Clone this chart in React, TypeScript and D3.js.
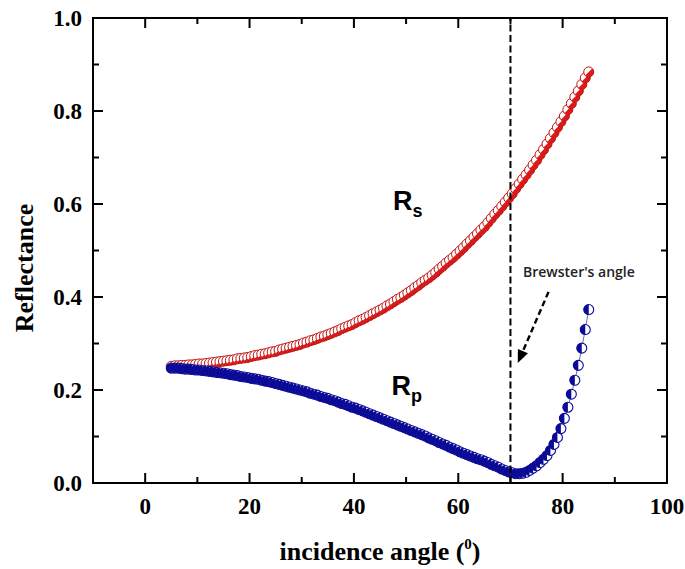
import React from "react";
import * as d3 from "d3";

const WIDTH = 685;
const HEIGHT = 569;
const MARGIN = { top: 18, right: 18, bottom: 86, left: 93 };

// incidence angles (degrees), one sample every 2/3 degree from 5 to 85
const angles: number[] = d3.range(121).map((i) => 5 + (i * 2) / 3);

// s-polarised reflectance
const rsValues: number[] = [
  0.251, 0.252, 0.252, 0.253, 0.253, 0.254, 0.254, 0.255,
  0.256, 0.256, 0.257, 0.258, 0.259, 0.26, 0.261,
  0.262, 0.263, 0.264, 0.265, 0.267, 0.268, 0.269, 0.27,
  0.272, 0.274, 0.275, 0.277, 0.278, 0.28, 0.282,
  0.283, 0.286, 0.288, 0.29, 0.292, 0.294, 0.296, 0.298,
  0.301, 0.303, 0.306, 0.308, 0.311, 0.314, 0.316,
  0.319, 0.322, 0.325, 0.328, 0.332, 0.335, 0.338, 0.341,
  0.345, 0.349, 0.352, 0.356, 0.36, 0.364, 0.368,
  0.372, 0.376, 0.381, 0.385, 0.39, 0.395, 0.399, 0.404,
  0.409, 0.414, 0.42, 0.425, 0.431, 0.436, 0.441,
  0.447, 0.453, 0.46, 0.466, 0.473, 0.479, 0.485, 0.492,
  0.499, 0.506, 0.514, 0.521, 0.529, 0.536, 0.544,
  0.551, 0.56, 0.569, 0.578, 0.586, 0.595, 0.604, 0.613,
  0.622, 0.633, 0.643, 0.653, 0.663, 0.673, 0.684,
  0.694, 0.706, 0.717, 0.729, 0.741, 0.753, 0.765, 0.777,
  0.789, 0.803, 0.816, 0.83, 0.843, 0.857, 0.871, 0.884,
];

// p-polarised reflectance
const rpValues: number[] = [
  0.247, 0.247, 0.247, 0.246, 0.245, 0.245, 0.244, 0.243,
  0.243, 0.242, 0.241, 0.24, 0.239, 0.238, 0.237,
  0.236, 0.235, 0.233, 0.232, 0.231, 0.229, 0.228, 0.227,
  0.225, 0.224, 0.223, 0.221, 0.219, 0.218, 0.216,
  0.214, 0.212, 0.21, 0.208, 0.206, 0.204, 0.202, 0.2,
  0.198, 0.196, 0.193, 0.191, 0.189, 0.186, 0.184,
  0.182, 0.179, 0.177, 0.174, 0.171, 0.169, 0.166, 0.163,
  0.161, 0.158, 0.155, 0.152, 0.149, 0.146, 0.143,
  0.14, 0.137, 0.134, 0.131, 0.128, 0.125, 0.122, 0.119,
  0.116, 0.113, 0.11, 0.107, 0.104, 0.101, 0.097,
  0.094, 0.091, 0.087, 0.084, 0.081, 0.077, 0.074, 0.071,
  0.067, 0.064, 0.061, 0.058, 0.055, 0.052, 0.05,
  0.047, 0.044, 0.04, 0.037, 0.034, 0.03, 0.027, 0.024,
  0.022, 0.02, 0.02, 0.021, 0.023, 0.027, 0.032,
  0.037, 0.044, 0.051, 0.059, 0.07, 0.083, 0.098, 0.117,
  0.139, 0.163, 0.191, 0.221, 0.253, 0.29, 0.33, 0.373,
];

const xMajorTicks = [0, 20, 40, 60, 80, 100];
const xMinorTicks = [10, 30, 50, 70, 90];
const yMajorTicks = [0, 0.2, 0.4, 0.6, 0.8, 1.0];
const yMinorTicks = [0.1, 0.3, 0.5, 0.7, 0.9];

const brewsterAngle = 70;

const RED = "#dc1a1a";
const RED_EDGE = "#c01010";
const BLUE = "#0a0a96";

const SERIF = "'Liberation Serif', 'Times New Roman', serif";
const SANS = "'Liberation Sans', Arial, sans-serif";

export default function App() {
  const innerW = WIDTH - MARGIN.left - MARGIN.right;
  const innerH = HEIGHT - MARGIN.top - MARGIN.bottom;

  const x = d3.scaleLinear().domain([-10, 100]).range([MARGIN.left, MARGIN.left + innerW]);
  const y = d3.scaleLinear().domain([0, 1]).range([MARGIN.top + innerH, MARGIN.top]);

  const x0 = MARGIN.left;
  const x1 = MARGIN.left + innerW;
  const y0 = MARGIN.top + innerH;
  const y1 = MARGIN.top;

  const rsPoints = angles.map((a, i) => [a, rsValues[i]] as [number, number]);
  const rpPoints = angles.map((a, i) => [a, rpValues[i]] as [number, number]);

  const line = d3
    .line<[number, number]>()
    .x((d) => x(d[0]))
    .y((d) => y(d[1]));

  const r = 5;
  const k = r * Math.SQRT1_2;
  // lower-right half of a circle (diagonal split)
  const halfLowerRight = `M${k},${-k} A${r},${r} 0 0 1 ${-k},${k} Z`;
  // left half of a circle
  const halfLeft = `M0,${-r} A${r},${r} 0 0 0 0,${r} Z`;

  const MAJOR = 10;
  const MINOR = 6;

  // arrow annotation in data units
  const arrowFrom: [number, number] = [77.3, 0.411];
  const arrowTo: [number, number] = [71.4, 0.258];
  const ax1 = x(arrowFrom[0]);
  const ay1 = y(arrowFrom[1]);
  const tipX = x(arrowTo[0]);
  const tipY = y(arrowTo[1]);
  const ang = Math.atan2(tipY - ay1, tipX - ax1);
  const headLen = 13;
  const headHalf = 5.5;
  const baseX = tipX - Math.cos(ang) * headLen;
  const baseY = tipY - Math.sin(ang) * headLen;
  const head = [
    [tipX, tipY],
    [baseX + Math.sin(ang) * headHalf, baseY - Math.cos(ang) * headHalf],
    [baseX - Math.sin(ang) * headHalf, baseY + Math.cos(ang) * headHalf],
  ]
    .map((p) => p.join(","))
    .join(" ");

  return (
    <svg
      width={WIDTH}
      height={HEIGHT}
      viewBox={`0 0 ${WIDTH} ${HEIGHT}`}
      style={{ position: "absolute", left: 0, top: 0, display: "block", background: "#fff" }}
    >
      <rect x={0} y={0} width={WIDTH} height={HEIGHT} fill="#fff" />

      {/* connecting lines */}
      <path d={line(rsPoints) ?? ""} fill="none" stroke={RED_EDGE} strokeWidth={0.8} />

      {/* Rs markers */}
      {rsPoints.map((p, i) => (
        <g key={`rs-${i}`} transform={`translate(${x(p[0])},${y(p[1])})`}>
          <circle r={r} fill="#fff" />
          <path d={halfLowerRight} fill={RED} />
          <circle r={r} fill="none" stroke={RED_EDGE} strokeWidth={1} />
        </g>
      ))}

      <path d={line(rpPoints) ?? ""} fill="none" stroke="#5a5aa0" strokeWidth={0.9} />

      {/* Rp markers */}
      {rpPoints.map((p, i) => (
        <g key={`rp-${i}`} transform={`translate(${x(p[0])},${y(p[1])})`}>
          <circle r={r} fill="#fff" />
          <path d={halfLeft} fill={BLUE} />
          <circle r={r} fill="none" stroke={BLUE} strokeWidth={1.1} />
        </g>
      ))}

      {/* Brewster's angle marker line */}
      <line
        x1={x(brewsterAngle)}
        x2={x(brewsterAngle)}
        y1={y(0)}
        y2={y(1)}
        stroke="#000"
        strokeWidth={2}
        strokeDasharray="7,3.5"
      />

      {/* annotation arrow */}
      <line
        x1={ax1}
        y1={ay1}
        x2={baseX}
        y2={baseY}
        stroke="#000"
        strokeWidth={2.4}
        strokeDasharray="6,3.5"
      />
      <polygon points={head} fill="#000" />
      <text
        x={x(72.4)}
        y={y(0.444)}
        fontFamily="'Open Sans', sans-serif"
        fontWeight={600}
        fontSize={14}
        fill="#222"
      >
        Brewster's angle
      </text>

      {/* series labels */}
      <text x={x(47.5)} y={y(0.588)} fontFamily={SANS} fontWeight={700} fontSize={27} fill="#000">
        R
        <tspan fontSize={18} dy={7}>
          s
        </tspan>
      </text>
      <text x={x(47.2)} y={y(0.19)} fontFamily={SANS} fontWeight={700} fontSize={27} fill="#000">
        R
        <tspan fontSize={18} dy={7}>
          p
        </tspan>
      </text>

      {/* frame */}
      <rect x={x0} y={y1} width={x1 - x0} height={y0 - y1} fill="none" stroke="#000" strokeWidth={2} />

      {/* x ticks (bottom and top) */}
      {xMajorTicks.map((t) => (
        <g key={`xM-${t}`}>
          <line x1={x(t)} x2={x(t)} y1={y0} y2={y0 - MAJOR} stroke="#000" strokeWidth={2} />
          <line x1={x(t)} x2={x(t)} y1={y1} y2={y1 + MAJOR} stroke="#000" strokeWidth={2} />
          <text
            x={x(t)}
            y={y0 + 31}
            textAnchor="middle"
            fontFamily={SERIF}
            fontWeight={700}
            fontSize={23}
            fill="#000"
          >
            {t}
          </text>
        </g>
      ))}
      {xMinorTicks.map((t) => (
        <g key={`xm-${t}`}>
          <line x1={x(t)} x2={x(t)} y1={y0} y2={y0 - MINOR} stroke="#000" strokeWidth={2} />
          <line x1={x(t)} x2={x(t)} y1={y1} y2={y1 + MINOR} stroke="#000" strokeWidth={2} />
        </g>
      ))}

      {/* y ticks (left and right) */}
      {yMajorTicks.map((t) => (
        <g key={`yM-${t}`}>
          <line x1={x0} x2={x0 + MAJOR} y1={y(t)} y2={y(t)} stroke="#000" strokeWidth={2} />
          <line x1={x1} x2={x1 - MAJOR} y1={y(t)} y2={y(t)} stroke="#000" strokeWidth={2} />
          <text
            x={x0 - 11}
            y={y(t)}
            dy="0.34em"
            textAnchor="end"
            fontFamily={SERIF}
            fontWeight={700}
            fontSize={23}
            fill="#000"
          >
            {t.toFixed(1)}
          </text>
        </g>
      ))}
      {yMinorTicks.map((t) => (
        <g key={`ym-${t}`}>
          <line x1={x0} x2={x0 + MINOR} y1={y(t)} y2={y(t)} stroke="#000" strokeWidth={2} />
          <line x1={x1} x2={x1 - MINOR} y1={y(t)} y2={y(t)} stroke="#000" strokeWidth={2} />
        </g>
      ))}

      {/* axis titles */}
      <text
        x={(x0 + x1) / 2}
        y={560}
        textAnchor="middle"
        fontFamily={SERIF}
        fontWeight={700}
        fontSize={26}
        fill="#000"
      >
        incidence angle (
        <tspan fontSize={15} dy={-11}>
          0
        </tspan>
        <tspan dy={11}>)</tspan>
      </text>
      <text
        transform={`translate(33,268) rotate(-90)`}
        textAnchor="middle"
        fontFamily={SERIF}
        fontWeight={700}
        fontSize={26}
        fill="#000"
      >
        Reflectance
      </text>
    </svg>
  );
}
